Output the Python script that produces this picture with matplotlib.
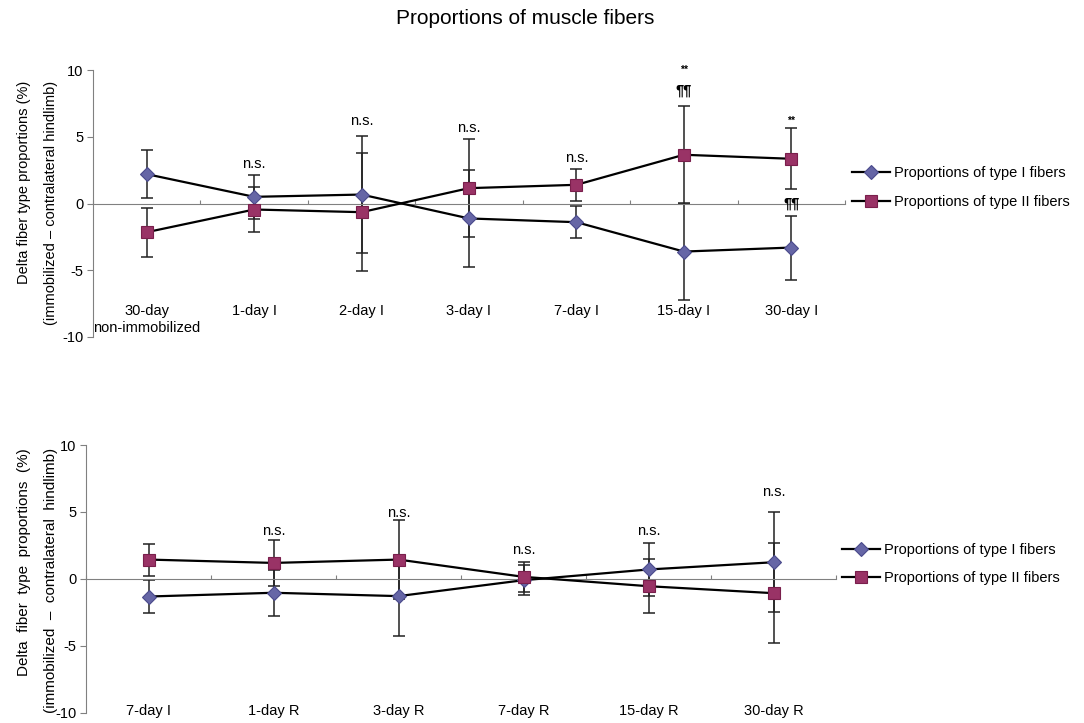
import numpy as np
import matplotlib.pyplot as plt

plt.rcParams['font.family'] = ['Liberation Sans', 'DejaVu Sans']
plt.rcParams['axes.unicode_minus'] = False

# immobilization series
imm_groups = ['30-day\nnon-immobilized', '1-day I', '2-day I', '3-day I',
              '7-day I', '15-day I', '30-day I']
imm_type1 = [2.2, 0.5, 0.67, -1.12, -1.4, -3.6, -3.3]
imm_type2 = [-2.15, -0.45, -0.65, 1.15, 1.4, 3.65, 3.35]
imm_err1 = [1.8, 1.65, 4.4, 3.65, 1.2, 3.65, 2.4]
imm_err2 = [1.85, 1.7, 4.4, 3.65, 1.2, 3.65, 2.3]
imm_notes = [(1, 2.97, 'n.s.'), (2, 6.17, 'n.s.'), (3, 5.67, 'n.s.'),
             (4, 3.39, 'n.s.'), (5, 10.0, '**'), (5, 8.46, '¶¶'),
             (6, 6.2, '**'), (6, 0.0, '¶¶')]

# recovery series
rec_groups = ['7-day I', '1-day R', '3-day R', '7-day R', '15-day R', '30-day R']
rec_type1 = [-1.32, -1.04, -1.29, -0.1, 0.7, 1.24]
rec_type2 = [1.44, 1.19, 1.44, 0.15, -0.55, -1.07]
rec_err1 = [1.2, 1.7, 2.95, 1.1, 2.0, 3.75]
rec_err2 = [1.2, 1.74, 2.95, 1.1, 2.0, 3.75]
rec_notes = [(1, 3.56, 'n.s.'), (2, 4.93, 'n.s.'), (3, 2.16, 'n.s.'),
             (4, 3.6, 'n.s.'), (5, 6.47, 'n.s.')]

W, H = 1084, 723
fig = plt.figure(figsize=(W / 100, H / 100), dpi=100)

GRAY = '#808080'


def draw_panel(ax, groups, t1, t2, e1, e2, notes, label_y, ylab, leg_pos):
    n = len(groups)
    x = np.arange(n) + 0.5

    ax.errorbar(x, t1, yerr=e1, fmt='none', ecolor='#222222', elinewidth=1.1,
                capsize=4.5, capthick=1.1, zorder=2)
    ax.errorbar(x, t2, yerr=e2, fmt='none', ecolor='#222222', elinewidth=1.1,
                capsize=4.5, capthick=1.1, zorder=2)
    h1, = ax.plot(x, t1, color='black', lw=1.6, marker='D', ms=7,
                  mfc='#6666a6', mec='#4a4a8c', mew=0.8, zorder=3,
                  label='Proportions of type I fibers')
    h2, = ax.plot(x, t2, color='black', lw=1.6, marker='s', ms=8.5,
                  mfc='#993366', mec='#7a1f4c', mew=0.8, zorder=3,
                  label='Proportions of type II fibers')

    ax.set_xlim(0, n)
    ax.set_ylim(-10, 10)
    ax.set_yticks([-10, -5, 0, 5, 10])
    ax.set_xticks(np.arange(n + 1))
    ax.set_xticklabels([])
    ax.tick_params(axis='y', direction='out', length=4, color=GRAY,
                   labelsize=10.5, pad=3)
    ax.tick_params(axis='x', direction='in', length=3, color=GRAY)

    for s in ['top', 'right']:
        ax.spines[s].set_visible(False)
    ax.spines['left'].set_color(GRAY)
    ax.spines['bottom'].set_color(GRAY)
    ax.spines['bottom'].set_position(('data', 0))

    for xi, g in zip(x, groups):
        ax.text(xi, label_y, g, ha='center', va='top', fontsize=10.5,
                linespacing=1.25)

    for i, yv, txt in notes:
        if txt == '**':
            ax.text(x[i], yv, txt, ha='center', va='center', fontsize=7.5,
                    fontweight='bold')
        elif txt == '¶¶':
            ax.text(x[i], yv, txt, ha='center', va='center', fontsize=10.5,
                    fontweight='bold', zorder=4)
        else:
            ax.text(x[i], yv, txt, ha='center', va='center', fontsize=10.5)

    # two-line y label, lines aligned at the top
    top, size, line1, line2 = ylab
    fig.text(24 / W, top, line1, rotation=90, ha='center', va='top',
             fontsize=size)
    fig.text(51 / W, top, line2, rotation=90, ha='center', va='top',
             fontsize=size)

    ax.legend(handles=[h1, h2], loc='center left', bbox_to_anchor=leg_pos,
              bbox_transform=fig.transFigure, frameon=False, fontsize=10.5,
              handlelength=2.6, handletextpad=0.3, labelspacing=1.0,
              borderaxespad=0, borderpad=0)


ax_top = fig.add_axes([93 / W, 1 - 337 / H, 752 / W, 267 / H])
draw_panel(ax_top, imm_groups, imm_type1, imm_type2, imm_err1, imm_err2,
           imm_notes, -7.55,
           (1 - 81 / H, 10.5, 'Delta fiber type proportions (%)',
            '(immobilized \u2013 contralateral hindlimb)'),
           (852 / W, 1 - 187.5 / H))

ax_bot = fig.add_axes([86 / W, 1 - 712.7 / H, 750 / W, 267.7 / H])
draw_panel(ax_bot, rec_groups, rec_type1, rec_type2, rec_err1, rec_err2,
           rec_notes, -9.35,
           (1 - 448 / H, 11, 'Delta  fiber  type  proportions  (%)',
            '(immobilized  \u2013  contralateral  hindlimb)'),
           (842 / W, 1 - 564 / H))

fig.text(525 / W, 1 - 18 / H, 'Proportions of muscle fibers', ha='center',
         va='center', fontsize=15)

fig.savefig('out.png', dpi=100)
